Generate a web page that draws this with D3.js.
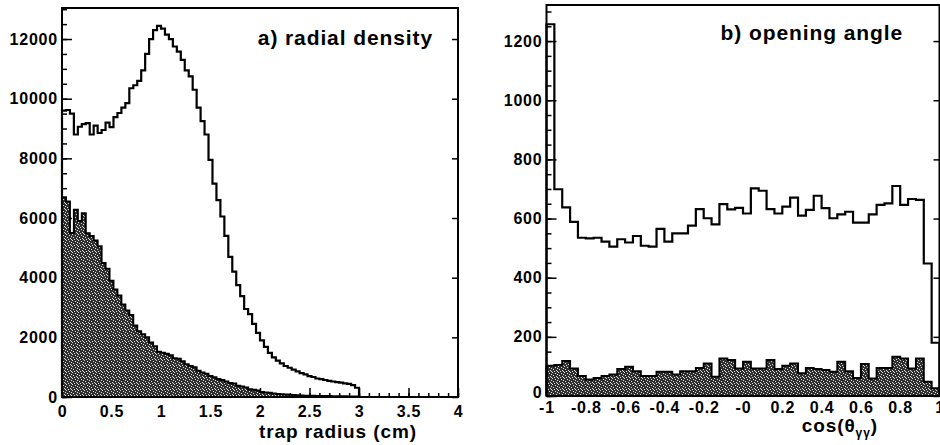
<!DOCTYPE html>
<html><head><meta charset="utf-8">
<script src="https://cdn.jsdelivr.net/npm/d3@7"></script>
<style>
body{margin:0;background:#fff;}
svg{display:block;}
text{font-family:"Liberation Sans",Arial,Helvetica,sans-serif;font-weight:bold;fill:#000;}
.tick text{font-size:16px;letter-spacing:0.8px;}
.ttl{font-size:21px;letter-spacing:0.9px;}
.axl{font-size:19px;letter-spacing:0.9px;}
</style>
</head><body>
<svg id="c" width="940" height="445"></svg>
<script>
// ---------- data ----------
// (a) radial density: bins of 0.04 cm starting at 0
const leftBinStart = 0, leftBinWidth = 0.04;
const leftTotal = [9600,9620,9500,8800,9060,9150,9180,8800,9100,8850,
  8950,9200,9050,9380,9520,9700,9850,10350,10450,10600,
  10950,11500,12000,12300,12440,12350,12150,12000,11750,11580,
  11300,10950,10750,10300,9700,9250,8800,7950,7150,6600,
  6050,5400,4700,4200,3750,3380,2950,2780,2450,2150,
  1900,1680,1480,1330,1220,1130,1040,980,920,860,
  800,760,700,670,620,600,570,540,520,500,
  480,460,440,400,310];
const leftShaded = [6700,6550,5500,6280,5900,6160,5490,5400,5250,5050,
  4490,4300,3900,3600,3400,3100,2900,2750,2400,2200,
  2100,2000,1830,1700,1520,1480,1450,1400,1300,1280,
  1200,1100,1040,1000,880,820,780,700,660,600,
  570,520,470,450,380,350,320,260,240,220,
  170,150,140,120,100,90,80,75,70,60,
  50,45,40,40,35,35,30,30,28,25,
  25,22,20,20,18];
// (b) opening angle: bins of 0.04 starting at -1
const rightBinStart = -1, rightBinWidth = 0.04;
const rightTotal = [1257,699,638,589,535,533,535,522,505,530,
  519,541,508,505,565,522,550,550,576,632,
  601,580,649,631,636,617,702,694,632,617,
  640,671,610,629,677,635,601,614,623,586,
  586,614,646,651,710,646,666,663,448,180];
const rightShaded = [102,105,118,93,68,56,61,68,73,91,
  99,84,68,68,82,82,73,84,84,95,
  110,65,127,122,93,116,93,93,122,91,
  102,110,77,95,91,88,82,116,84,61,
  108,59,95,95,133,127,93,127,48,26];

const leftXTicks = [0,0.5,1,1.5,2,2.5,3,3.5,4];
const leftXLabels = ["0","0.5","1","1.5","2","2.5","3","3.5","4"];
const leftYTicks = [0,2000,4000,6000,8000,10000,12000];
const rightXTicks = [-1,-0.8,-0.6,-0.4,-0.2,0,0.2,0.4,0.6,0.8,1];
const rightXLabels = ["-1","-0.8","-0.6","-0.4","-0.2","-0","0.2","0.4","0.6","0.8","1"];
const rightYTicks = [0,200,400,600,800,1000,1200];

const leftTitle = "a) radial density";
const rightTitle = "b) opening angle";
const leftXTitle = "trap radius (cm)";

// ---------- drawing ----------
const svg = d3.select("#c");
const defs = svg.append("defs");
const pat = defs.append("pattern").attr("id","stip").attr("width",6).attr("height",6)
  .attr("patternUnits","userSpaceOnUse");
pat.append("rect").attr("width",6).attr("height",6).attr("fill","#303030");
[[0,0],[3,1],[1,3],[4,4],[2,5],[5,2],[5,5]].forEach(p=>{
  pat.append("rect").attr("x",p[0]).attr("y",p[1]).attr("width",1).attr("height",1).attr("fill","#dcdcdc");
});

function stepPoints(start, w, vals){
  const pts=[[start,0]];
  vals.forEach((v,i)=>{pts.push([start+i*w,v]);pts.push([start+(i+1)*w,v]);});
  pts.push([start+vals.length*w,0]);
  return pts;
}

function panel(o){
  const g = svg.append("g");
  const x=o.x, y=o.y;
  const [x0,x1]=x.range(), [y0,y1]=y.range();
  const clean = s=>{s.select(".domain").remove(); s.attr("font-size",null).attr("font-family",null);
    s.selectAll("line").attr("stroke-width",1.5);};
  // minor ticks
  g.append("g").attr("transform",`translate(0,${y0})`)
    .call(d3.axisBottom(x).tickValues(x.ticks(o.xMinor)).tickSize(-4).tickFormat("")).call(clean);
  g.append("g").attr("transform",`translate(${x0},0)`)
    .call(d3.axisLeft(y).tickValues(y.ticks(o.yMinor)).tickSize(-5).tickFormat("")).call(clean);
  // major ticks + labels
  g.append("g").attr("transform",`translate(0,${y0})`)
    .call(d3.axisBottom(x).tickValues(o.xTicks).tickFormat((d,i)=>o.xLabels[i]).tickSize(-9).tickPadding(o.xPad)).call(clean);
  const ya = g.append("g").attr("transform",`translate(${x0},0)`)
    .call(d3.axisLeft(y).tickValues(o.yTicks).tickFormat(d=>String(d)).tickSize(-10).tickPadding(4)).call(clean);
  ya.selectAll(".tick text").filter(d=>d===0).attr("dy",o.zeroDy);
  g.append("g").attr("transform",`translate(${x1},0)`)
    .call(d3.axisRight(y).tickValues(o.yTicks).tickSize(-6).tickFormat("")).call(clean);

  // shaded histogram
  const sp = stepPoints(o.start,o.w,o.shaded);
  g.append("path").attr("d",d3.area().x(d=>x(d[0])).y0(y(0)).y1(d=>y(d[1]))(sp))
    .attr("fill","url(#stip)");
  g.append("path").attr("d",d3.line().x(d=>x(d[0])).y(d=>y(d[1]))(sp))
    .attr("fill","none").attr("stroke","#000").attr("stroke-width",2);
  // total histogram outline
  const tp = stepPoints(o.start,o.w,o.total);
  g.append("path").attr("d",d3.line().x(d=>x(d[0])).y(d=>y(d[1]))(tp))
    .attr("fill","none").attr("stroke","#000").attr("stroke-width",2.2);
  // frame
  g.append("rect").attr("x",x0).attr("y",y1).attr("width",x1-x0).attr("height",y0-y1)
    .attr("fill","none").attr("stroke","#000").attr("stroke-width",2);
  return g;
}

const xL = d3.scaleLinear().domain([0,4]).range([62,458]);
const yL = d3.scaleLinear().domain([0,13040]).range([397,8]);
const gL = panel({x:xL,y:yL,start:leftBinStart,w:leftBinWidth,total:leftTotal,shaded:leftShaded,
  xTicks:leftXTicks,xLabels:leftXLabels,yTicks:leftYTicks,xMinor:40,yMinor:26,xPad:8.6,zeroDy:"0.32em"});
gL.append("text").attr("class","ttl").attr("x",433).attr("y",45).attr("text-anchor","end").text(leftTitle);
gL.append("text").attr("class","axl").attr("x",417).attr("y",438).attr("text-anchor","end").text(leftXTitle);

const xR = d3.scaleLinear().domain([-1,1]).range([546.5,939.5]);
const yR = d3.scaleLinear().domain([0,1322]).range([396,5]);
const gR = panel({x:xR,y:yR,start:rightBinStart,w:rightBinWidth,total:rightTotal,shaded:rightShaded,
  xTicks:rightXTicks,xLabels:rightXLabels,yTicks:rightYTicks,xMinor:40,yMinor:26,xPad:6,zeroDy:"0.1em"});
gR.append("text").attr("class","ttl").attr("x",903).attr("y",40).attr("text-anchor","end").text(rightTitle);
const ct = gR.append("text").attr("class","axl").attr("x",878).attr("y",432).attr("text-anchor","end");
ct.append("tspan").text("cos(θ");
ct.append("tspan").attr("font-size","12px").attr("dy",5).text("γγ");
ct.append("tspan").attr("dy",-5).text(")");
</script>
</body></html>
